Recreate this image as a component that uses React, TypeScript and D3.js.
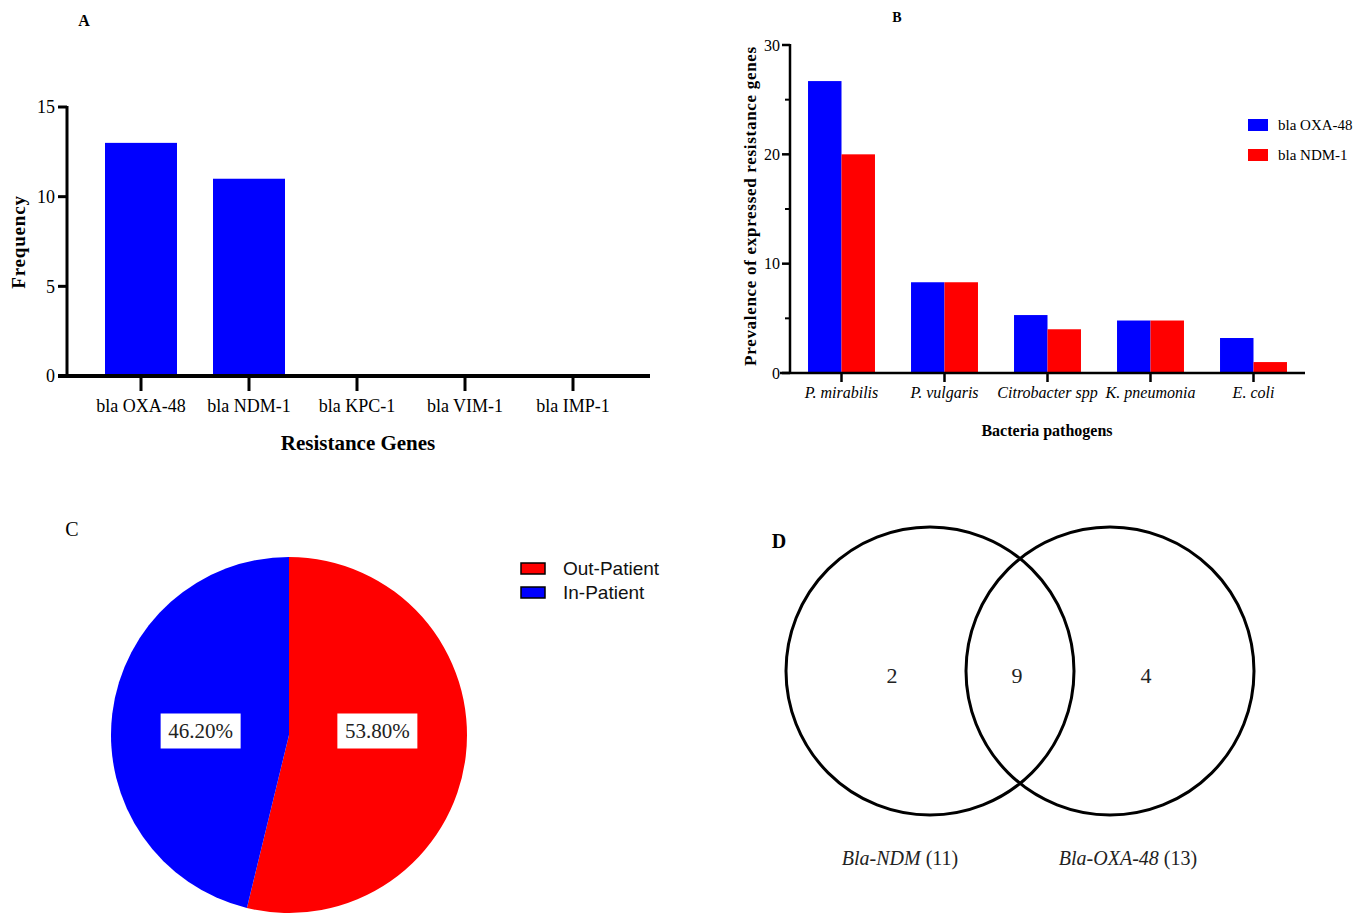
import React, { useEffect } from 'react';
import * as d3 from 'd3';

// Panel A - resistance gene frequency
const geneNames = ['bla OXA-48', 'bla NDM-1', 'bla KPC-1', 'bla VIM-1', 'bla IMP-1'];
const geneFreq = [13, 11, 0, 0, 0];
const freqTicks = [0, 5, 10, 15];

// Panel B - prevalence by pathogen
const pathogens = ['P. mirabilis', 'P. vulgaris', 'Citrobacter spp', 'K. pneumonia', 'E. coli'];
const seriesNames = ['bla OXA-48', 'bla NDM-1'];
const oxa48Prev = [26.7, 8.3, 5.3, 4.8, 3.2];
const ndm1Prev = [20.0, 8.3, 4.0, 4.8, 1.0];
const prevTicks = [0, 10, 20, 30];
const prevMinorTicks = [5, 15, 25];

// Panel C - patient type
const patientTypes = ['Out-Patient', 'In-Patient'];
const patientShares = [53.8, 46.2];

// Panel D - venn
const vennSets = ['Bla-NDM', 'Bla-OXA-48'];
const vennTotals = [11, 13];
const vennOnly = [2, 4];
const vennBoth = 9;

const BLUE = '#0000ff';
const RED = '#ff0000';
const serif = '"Liberation Serif", "Times New Roman", serif';
const sans = '"Liberation Sans", Arial, sans-serif';

function PanelA() {
  const x = d3.scaleBand<string>().domain(geneNames).range([87, 627]).paddingInner(1 / 3).paddingOuter(1 / 6);
  const y = d3.scaleLinear().domain([0, 15]).range([376, 107]);
  return (
    <g fontFamily={serif}>
      <text x={84} y={26} fontSize={16} fontWeight="bold" textAnchor="middle">A</text>
      {geneNames.map((g, i) => (
        <rect key={g} x={x(g)} y={y(geneFreq[i])} width={x.bandwidth()} height={y(0) - y(geneFreq[i])} fill={BLUE} />
      ))}
      <line x1={67} x2={67} y1={y(15) - 1} y2={y(0) + 1} stroke="#000" strokeWidth={3} />
      {freqTicks.map(t => (
        <g key={t}>
          <line x1={58} x2={67} y1={y(t)} y2={y(t)} stroke="#000" strokeWidth={3} />
          <text x={55} y={y(t)} dy="0.35em" fontSize={18} textAnchor="end">{t}</text>
        </g>
      ))}
      <line x1={58} x2={650} y1={y(0)} y2={y(0)} stroke="#000" strokeWidth={4} />
      {geneNames.map(g => {
        const cx = (x(g) || 0) + x.bandwidth() / 2;
        return (
          <g key={g}>
            <line x1={cx} x2={cx} y1={y(0)} y2={y(0) + 15} stroke="#000" strokeWidth={3} />
            <text x={cx} y={412} fontSize={18} textAnchor="middle">{g}</text>
          </g>
        );
      })}
      <text x={358} y={450} fontSize={21} fontWeight="bold" textAnchor="middle">Resistance Genes</text>
      <text transform="translate(25,242) rotate(-90)" fontSize={19} letterSpacing={0.8} fontWeight="bold" textAnchor="middle">Frequency</text>
    </g>
  );
}

function PanelB() {
  const x0 = d3.scaleBand<string>().domain(pathogens).range([790, 1305]).paddingInner(0.35).paddingOuter(0.175);
  const x1 = d3.scaleBand<string>().domain(seriesNames).range([0, x0.bandwidth()]);
  const y = d3.scaleLinear().domain([0, 30]).range([373, 45]);
  const color = d3.scaleOrdinal<string, string>().domain(seriesNames).range([BLUE, RED]);
  const values = [oxa48Prev, ndm1Prev];
  return (
    <g fontFamily={serif}>
      <text x={897} y={22} fontSize={14} fontWeight="bold" textAnchor="middle">B</text>
      {pathogens.map((p, i) =>
        seriesNames.map((s, j) => (
          <rect key={p + s} x={(x0(p) || 0) + (x1(s) || 0)} y={y(values[j][i])} width={x1.bandwidth()}
            height={y(0) - y(values[j][i])} fill={color(s)} />
        ))
      )}
      <line x1={790} x2={790} y1={y(30) - 1} y2={y(0)} stroke="#000" strokeWidth={2.5} />
      {prevTicks.map(t => (
        <g key={t}>
          <line x1={782} x2={790} y1={y(t)} y2={y(t)} stroke="#000" strokeWidth={2.5} />
          <text x={780} y={y(t)} dy="0.35em" fontSize={16} textAnchor="end">{t}</text>
        </g>
      ))}
      {prevMinorTicks.map(t => (
        <line key={t} x1={785} x2={790} y1={y(t)} y2={y(t)} stroke="#000" strokeWidth={2} />
      ))}
      <line x1={780} x2={1305} y1={y(0)} y2={y(0)} stroke="#000" strokeWidth={2.5} />
      {pathogens.map(p => {
        const cx = (x0(p) || 0) + x0.bandwidth() / 2;
        return (
          <g key={p}>
            <line x1={cx} x2={cx} y1={y(0)} y2={y(0) + 9} stroke="#000" strokeWidth={2.5} />
            <text x={cx} y={398} fontSize={16} fontStyle="italic" textAnchor="middle">{p}</text>
          </g>
        );
      })}
      <text x={1047} y={436} fontSize={16} fontWeight="bold" textAnchor="middle">Bacteria pathogens</text>
      <text transform="translate(756,206) rotate(-90)" fontSize={17} letterSpacing={0.7} fontWeight="bold" textAnchor="middle">
        Prevalence of expressed resistance genes
      </text>
      {seriesNames.map((s, j) => (
        <g key={s} transform={`translate(1248,${119 + j * 30})`}>
          <rect width={20} height={12} fill={color(s)} />
          <text x={30} y={11} fontSize={15}>{s}</text>
        </g>
      ))}
    </g>
  );
}

function PanelC() {
  const cx = 289;
  const cy = 735;
  const r = 178;
  const pie = d3.pie<number>().sort(null).value(d => d);
  const arcs = pie(patientShares);
  const arc = d3.arc<d3.PieArcDatum<number>>().innerRadius(0).outerRadius(r);
  const labelArc = d3.arc<d3.PieArcDatum<number>>().innerRadius(r * 0.5).outerRadius(r * 0.5);
  const color = d3.scaleOrdinal<string, string>().domain(patientTypes).range([RED, BLUE]);
  const fmt = d3.format('.2f');
  return (
    <g>
      <text x={72} y={536} fontSize={20} fontFamily={serif} textAnchor="middle">C</text>
      <g transform={`translate(${cx},${cy})`}>
        {arcs.map((a, i) => (
          <path key={i} d={arc(a) || ''} fill={color(patientTypes[i])} />
        ))}
        {arcs.map((a, i) => {
          const [lx] = labelArc.centroid(a);
          return (
            <g key={'l' + i} transform={`translate(${lx},-4)`}>
              <rect x={-40} y={-17.5} width={80} height={35} fill="#fff" />
              <text y={0} dy="0.35em" fontSize={21} fontFamily={serif} textAnchor="middle" fill="#222">
                {fmt(patientShares[i]) + '%'}
              </text>
            </g>
          );
        })}
      </g>
      {patientTypes.map((p, i) => (
        <g key={p} transform={`translate(521,${563 + i * 24})`}>
          <rect width={24} height={11} fill={color(p)} stroke="#000" strokeWidth={1.5} />
          <text x={42} y={12} fontSize={19} fontFamily={sans} fill="#111">{p}</text>
        </g>
      ))}
    </g>
  );
}

function PanelD() {
  const x = d3.scalePoint<string>().domain(vennSets).range([930, 1110]);
  const r = 144;
  const cy = 671;
  const mid = ((x(vennSets[0]) || 0) + (x(vennSets[1]) || 0)) / 2;
  const uniqueOffset = [-38, 36];
  const labelOffset = [-30, 18];
  return (
    <g fontFamily={serif}>
      <text x={779} y={548} fontSize={20} fontWeight="bold" textAnchor="middle">D</text>
      {vennSets.map(s => (
        <circle key={s} cx={x(s)} cy={cy} r={r} fill="none" stroke="#000" strokeWidth={3} />
      ))}
      {vennSets.map((s, i) => (
        <text key={'n' + s} x={(x(s) || 0) + uniqueOffset[i]} y={cy + 4} dy="0.35em" fontSize={22} textAnchor="middle" fill="#222">
          {vennOnly[i]}
        </text>
      ))}
      <text x={mid - 3} y={cy + 4} dy="0.35em" fontSize={22} textAnchor="middle" fill="#222">{vennBoth}</text>
      {vennSets.map((s, i) => (
        <text key={'t' + s} x={(x(s) || 0) + labelOffset[i]} y={865} fontSize={20} textAnchor="middle" fill="#222">
          <tspan fontStyle="italic">{s}</tspan>
          <tspan>{` (${vennTotals[i]})`}</tspan>
        </text>
      ))}
    </g>
  );
}

export default function App() {
  useEffect(() => {
    document.body.style.margin = '0';
    document.body.style.overflow = 'hidden';
  }, []);
  return (
    <svg width={1369} height={913} style={{ position: 'absolute', left: 0, top: 0, background: '#fff' }}>
      <rect width={1369} height={913} fill="#fff" />
      <PanelA />
      <PanelB />
      <PanelC />
      <PanelD />
    </svg>
  );
}
